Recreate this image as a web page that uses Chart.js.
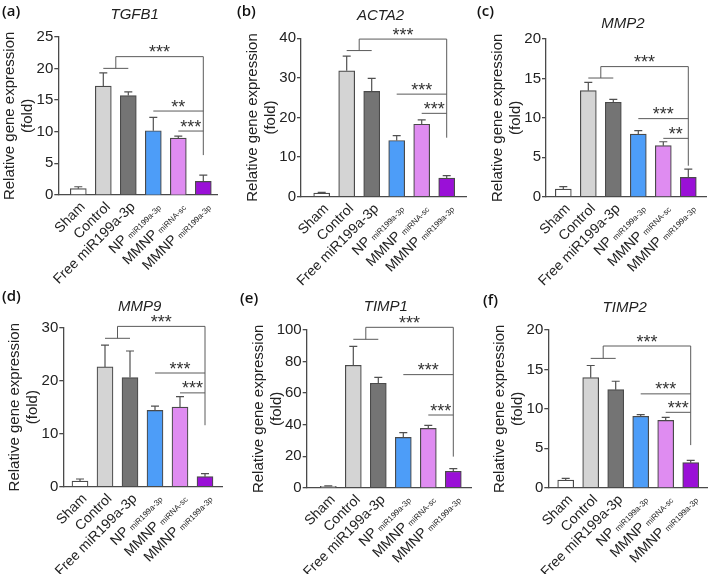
<!DOCTYPE html>
<html>
<head>
<meta charset="utf-8">
<title>Relative gene expression</title>
<script src="https://cdn.jsdelivr.net/npm/chart.js@4.4.1/dist/chart.umd.min.js"></script>
<style>
  html, body { margin: 0; padding: 0; background: #ffffff; }
  #figure { position: relative; width: 709px; height: 574px; overflow: hidden; }
  #figure canvas { position: absolute; }
</style>
</head>
<body>
<div id="figure">
  <canvas id="panel-a" width="236" height="287" style="left:0px;top:0px"></canvas>
  <canvas id="panel-b" width="236" height="287" style="left:236px;top:0px"></canvas>
  <canvas id="panel-c" width="237" height="287" style="left:472px;top:0px"></canvas>
  <canvas id="panel-d" width="236" height="287" style="left:0px;top:287px"></canvas>
  <canvas id="panel-e" width="236" height="287" style="left:236px;top:287px"></canvas>
  <canvas id="panel-f" width="237" height="287" style="left:472px;top:287px"></canvas>
</div>
<script>

// Data
// ------------------------------
var groupNames = ['Sham', 'Control', 'Free miR199a-3p', 'NP', 'MMNP', 'MMNP'];
var groupSubs = ['', '', '', 'miR199a-3p', 'miRNA-sc', 'miR199a-3p'];

var geneNames = ['TGFB1', 'ACTA2', 'MMP2', 'MMP9', 'TIMP1', 'TIMP2'];
var panelTags = ['(a)', '(b)', '(c)', '(d)', '(e)', '(f)'];

// mean and SD (fold), one value per group
var tgfb1Mean = [1.0, 17.2, 15.7, 10.15, 9.0, 2.15];
var tgfb1Sd   = [0.3, 2.1, 0.6, 2.1, 0.3, 1.0];
var acta2Mean = [0.9, 31.8, 26.6, 14.2, 18.3, 4.7];
var acta2Sd   = [0.2, 3.7, 3.3, 1.2, 1.1, 0.6];
var mmp2Mean  = [0.97, 13.45, 11.97, 7.95, 6.47, 2.45];
var mmp2Sd    = [0.3, 1.05, 0.38, 0.42, 0.5, 1.05];
var mmp9Mean  = [1.07, 22.6, 20.6, 14.4, 15.0, 1.9];
var mmp9Sd    = [0.38, 4.1, 5.0, 0.8, 2.0, 0.55];
var timp1Mean = [0.8, 77.6, 66.2, 31.9, 37.6, 10.4];
var timp1Sd   = [0.3, 12.0, 3.8, 3.0, 1.9, 1.65];
var timp2Mean = [0.97, 13.95, 12.43, 9.05, 8.54, 3.17];
var timp2Sd   = [0.21, 1.55, 1.07, 0.21, 0.38, 0.3];

var yMaxes = [25, 40, 20, 30, 100, 20];
var yTickSteps = [5, 10, 5, 10, 20, 5];

// significance brackets (fold units)
var bracketBase = [20.0, 36.9, 15.05, 28.0, 94.1, 16.4];
var bracketTop  = [21.85, 39.8, 16.5, 30.25, 101.7, 17.97];
var bracketDrop = [6.3, 14.9, 3.93, 11.6, 19.7, 5.4];
var bracketMid  = [13.26, 25.9, 9.9, 21.45, 71.7, 11.9];
var bracketLow  = [10.1, 21.05, 7.4, 17.7, 46.1, 9.56];
var starsTop = ['***', '***', '***', '***', '***', '***'];
var starsMid = ['**', '***', '***', '***', '***', '***'];
var starsLow = ['***', '***', '**', '***', '***', '***'];

var panelMeans = [tgfb1Mean, acta2Mean, mmp2Mean, mmp9Mean, timp1Mean, timp2Mean];
var panelSds = [tgfb1Sd, acta2Sd, mmp2Sd, mmp9Sd, timp1Sd, timp2Sd];

// Look
// ------------------------------
var barColors = ['#ffffff', '#d4d4d4', '#747474', '#4d9df8', '#df8cf1', '#9a10d7'];
var inkColor = '#4a4a4a';
var textColor = '#222222';
var fontFamily = '"Liberation Sans", Arial, sans-serif';

// page positions of each plot frame (px)
var panelBoxes = [
    {left: 0,   top: 0,   width: 236, height: 287, axisX: 58.3,  firstX: 78.3,  rightX: 217, topY: 36.7,  zeroY: 195,   tag: [2, 12],  titleY: 15},
    {left: 236, top: 0,   width: 236, height: 287, axisX: 301,   firstX: 321.7, rightX: 466, topY: 38.3,  zeroY: 196.7, tag: [1, 12],  titleY: 16},
    {left: 472, top: 0,   width: 237, height: 287, axisX: 546,   firstX: 563.3, rightX: 706, topY: 39,    zeroY: 196.7, tag: [5, 12],  titleY: 24},
    {left: 0,   top: 287, width: 236, height: 287, axisX: 63.3,  firstX: 80,    rightX: 222, topY: 327.7, zeroY: 486.7, tag: [2, 10],  titleY: 20},
    {left: 236, top: 287, width: 236, height: 287, axisX: 306.7, firstX: 328.3, rightX: 471, topY: 330,   zeroY: 487.7, tag: [4, 12],  titleY: 20},
    {left: 472, top: 287, width: 237, height: 287, axisX: 548.3, firstX: 565.7, rightX: 707, topY: 330,   zeroY: 487.7, tag: [11, 14], titleY: 21}
];
var barPitch = 25;
var yAxisWidth = 57;

Chart.defaults.font.family = fontFamily;
Chart.defaults.color = textColor;

// error bars, brackets, stars, category labels, titles
var panelMarks = {
    id: 'panelMarks',
    afterDatasetsDraw: function(chart, args, opts) {
        var k = opts.index;
        var xs = chart.scales.x, ys = chart.scales.y;
        var ctx = chart.ctx;
        ctx.save();
        ctx.strokeStyle = '#505050';
        ctx.lineWidth = 1.2;
        panelMeans[k].forEach(function(m, i) {
            var x = xs.getPixelForValue(i);
            var y0 = ys.getPixelForValue(m);
            var y1 = ys.getPixelForValue(m + panelSds[k][i]);
            ctx.beginPath();
            ctx.moveTo(x, y0);
            ctx.lineTo(x, y1);
            ctx.moveTo(x - 4, y1);
            ctx.lineTo(x + 4, y1);
            ctx.stroke();
        });
        ctx.restore();
    },
    afterDraw: function(chart, args, opts) {
        var k = opts.index;
        var box = panelBoxes[k];
        var xs = chart.scales.x, ys = chart.scales.y;
        var ctx = chart.ctx;
        var px = function(v) { return xs.getPixelForValue(v); };
        var py = function(v) { return ys.getPixelForValue(v); };

        ctx.save();

        // brackets
        ctx.strokeStyle = '#5a5a5a';
        ctx.lineWidth = 1;
        ctx.beginPath();
        ctx.moveTo(px(1), py(bracketBase[k]));
        ctx.lineTo(px(2), py(bracketBase[k]));
        ctx.moveTo(px(1.5), py(bracketBase[k]));
        ctx.lineTo(px(1.5), py(bracketTop[k]));
        ctx.lineTo(px(5), py(bracketTop[k]));
        ctx.lineTo(px(5), py(bracketDrop[k]));
        ctx.moveTo(px(3), py(bracketMid[k]));
        ctx.lineTo(px(5), py(bracketMid[k]));
        ctx.moveTo(px(4), py(bracketLow[k]));
        ctx.lineTo(px(5), py(bracketLow[k]));
        ctx.stroke();

        // stars
        ctx.fillStyle = '#333333';
        ctx.font = '18px ' + fontFamily;
        ctx.textAlign = 'center';
        ctx.textBaseline = 'alphabetic';
        ctx.fillText(starsTop[k], (px(1.5) + px(5)) / 2, py(bracketTop[k]) + 1.6);
        ctx.fillText(starsMid[k], (px(3) + px(5)) / 2, py(bracketMid[k]) + 1.6);
        ctx.fillText(starsLow[k], (px(4) + px(5)) / 2, py(bracketLow[k]) + 1.6);

        // category labels, rotated, with subscripts
        ctx.fillStyle = textColor;
        ctx.textAlign = 'left';
        groupNames.forEach(function(name, i) {
            var sub = groupSubs[i];
            ctx.save();
            ctx.translate(px(i) + 4, py(0) + 9);
            ctx.rotate(-Math.PI / 4);
            ctx.font = '8px ' + fontFamily;
            var wSub = sub ? ctx.measureText(sub).width + 3 : 0;
            ctx.font = '14px ' + fontFamily;
            var wMain = ctx.measureText(name).width;
            ctx.fillText(name, -(wMain + wSub), 5);
            if (sub) {
                ctx.font = '8px ' + fontFamily;
                ctx.fillText(sub, -wSub + 3, 6);
            }
            ctx.restore();
        });

        // gene title
        ctx.font = 'italic 15px ' + fontFamily;
        ctx.textAlign = 'center';
        ctx.textBaseline = 'middle';
        ctx.fillText(geneNames[k], (chart.chartArea.left + chart.chartArea.right) / 2 - 3, box.titleY);

        // panel tag
        ctx.fillStyle = '#111111';
        ctx.font = '600 15px "Open Sans", sans-serif';
        ctx.textAlign = 'left';
        ctx.fillText(panelTags[k], box.tag[0], box.tag[1]);

        ctx.restore();
    }
};

window.addEventListener('load', function() {

    var canvasIds = ['panel-a', 'panel-b', 'panel-c', 'panel-d', 'panel-e', 'panel-f'];

    canvasIds.forEach(function(id, k) {
        var box = panelBoxes[k];
        var ctx = document.getElementById(id).getContext('2d');

        // Chart Data
        var chartData = {
            datasets: [{
                data: panelMeans[k].map(function(v, i) { return {x: i, y: v}; }),
                backgroundColor: barColors,
                borderColor: inkColor,
                borderWidth: 1.2,
                barThickness: 16
            }]
        };

        // Chart Options
        var chartOptions = {
            responsive: false,
            animation: false,
            events: [],
            layout: {
                padding: {
                    left: box.axisX - box.left - yAxisWidth,
                    right: box.left + box.width - box.rightX,
                    top: box.topY - box.top,
                    bottom: box.top + box.height - box.zeroY
                }
            },
            plugins: {
                legend: {display: false},
                tooltip: {enabled: false},
                panelMarks: {index: k}
            },
            scales: {
                x: {
                    type: 'linear',
                    offset: false,
                    min: -(box.firstX - box.axisX) / barPitch,
                    max: 5 + (box.rightX - box.firstX - 5 * barPitch) / barPitch,
                    ticks: {display: false},
                    grid: {display: false, offset: false},
                    border: {display: true, color: inkColor, width: 1.3},
                    afterFit: function(scale) { scale.height = 0; }
                },
                y: {
                    min: 0,
                    max: yMaxes[k],
                    ticks: {stepSize: yTickSteps[k], padding: 1, color: textColor, font: {size: 15}},
                    grid: {drawOnChartArea: false, drawTicks: true, tickLength: 4, color: inkColor, lineWidth: 1.3},
                    border: {display: true, color: inkColor, width: 1.3},
                    title: {
                        display: true,
                        text: ['Relative gene expression', '(fold)'],
                        color: textColor,
                        font: {size: 15, lineHeight: 1.2},
                        padding: 0
                    },
                    afterFit: function(scale) { scale.width = yAxisWidth; }
                }
            }
        };

        var config = {
            type: 'bar',
            options: chartOptions,
            data: chartData,
            plugins: [panelMarks]
        };

        // Create the chart
        new Chart(ctx, config);
    });

});
</script>
</body>
</html>
